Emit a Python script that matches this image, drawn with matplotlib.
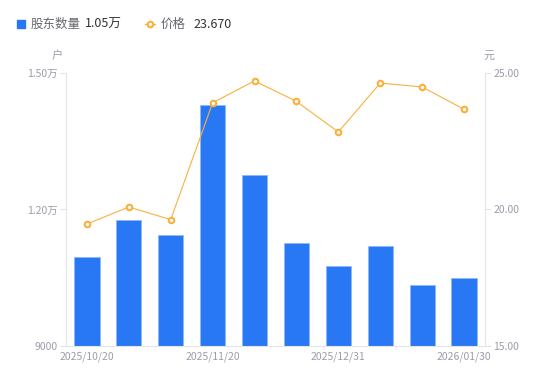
import matplotlib
matplotlib.use("Agg")
import matplotlib.pyplot as plt
from matplotlib.ticker import FixedLocator

plt.rcParams['font.family'] = ['Noto Sans CJK SC', 'DejaVu Sans']

# data
dates = ['2025/10/20', '2025/10/31', '2025/11/10', '2025/11/20', '2025/11/30',
         '2025/12/10', '2025/12/31', '2026/01/10', '2026/01/20', '2026/01/30']
holders = [10960, 11760, 11430, 14300, 12760, 11270, 10750, 11190, 10340, 10500]
price = [19.47, 20.09, 19.63, 23.91, 24.71, 23.96, 22.84, 24.63, 24.49, 23.67]
left_ticks = [9000, 12000, 15000]
left_labels = ['9000', '1.20万', '1.50万']
right_ticks = [15, 20, 25]
label_idx = [0, 3, 6, 9]

bar_color = '#2878f5'
line_color = '#fbb03b'
tick_color = '#9c9cac'
axis_color = '#e3e3e8'

fig = plt.figure(figsize=(5.5, 3.81), dpi=100)
ax = fig.add_axes([0.12, 0.0919, 0.7618, 0.7165])
ax2 = ax.twinx()

x = list(range(len(dates)))
ax.bar(x, holders, width=0.6, color=bar_color, edgecolor='#8fb8f9', linewidth=0.6, zorder=2)
ax.set_xlim(-0.5, len(dates) - 0.5)
ax.set_ylim(9000, 15000)
ax.yaxis.set_major_locator(FixedLocator(left_ticks))
ax.set_yticklabels(left_labels)
ax.set_xticks([x[i] for i in label_idx])
ax.set_xticklabels([dates[i] for i in label_idx])

ax2.plot(x, price, color=line_color, linewidth=0.8, marker='o', markersize=4,
         markerfacecolor='white', markeredgecolor=line_color, markeredgewidth=1.5, zorder=3)
ax2.set_ylim(15, 25)
ax2.set_yticks(right_ticks)
ax2.set_yticklabels([f'{v:.2f}' for v in right_ticks])

for a in (ax, ax2):
    for s in a.spines.values():
        s.set_visible(False)
    a.tick_params(colors=tick_color, labelsize=7.5, length=4, width=0.8)
    a.tick_params(axis='y', color=axis_color, pad=2)
ax.tick_params(axis='x', length=0, pad=4)
ax.spines['left'].set_visible(True)
ax.spines['left'].set_color(axis_color)
ax.spines['bottom'].set_visible(True)
ax.spines['bottom'].set_color(axis_color)
ax2.spines['right'].set_visible(True)
ax2.spines['right'].set_color(axis_color)

# unit labels
fig.text(57 / 550, 1 - 56 / 381, '户', color=tick_color, fontsize=8, ha='center', va='center')
fig.text(489 / 550, 1 - 56 / 381, '元', color=tick_color, fontsize=8, ha='center', va='center')

# legend row
ly = 1 - 24 / 381
fig.patches.append(plt.Rectangle((17 / 550, 1 - 28 / 381), 8 / 550, 8 / 381,
                                 color=bar_color, transform=fig.transFigure, figure=fig))
fig.text(31 / 550, ly, '股东数量', color='#666670', fontsize=9, va='center')
fig.text(85 / 550, ly, f'{holders[-1] / 10000:.2f}万', color='#333333', fontsize=9, va='center')
fig.add_artist(plt.Line2D([145 / 550, 150 / 550, 155 / 550], [ly, ly, ly], color=line_color,
                          linewidth=1, marker='o', markersize=4, markevery=[1],
                          markerfacecolor='white', markeredgewidth=1.5,
                          transform=fig.transFigure))
fig.text(161 / 550, ly, '价格', color='#666670', fontsize=9, va='center')
fig.text(193 / 550, ly, f'{price[-1]:.3f}', color='#333333', fontsize=9, va='center')

fig.savefig('out.png', dpi=100)
